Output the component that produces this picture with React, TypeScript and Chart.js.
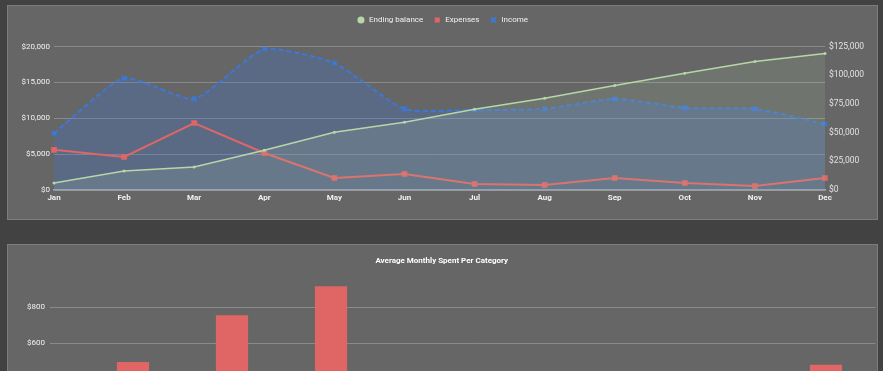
import React, { useEffect, useRef } from 'react';
import { Chart, registerables } from 'chart.js';

Chart.register(...registerables);

// ---------- data ----------
const months = ['Jan', 'Feb', 'Mar', 'Apr', 'May', 'Jun', 'Jul', 'Aug', 'Sep', 'Oct', 'Nov', 'Dec'];
const endingBalance = [6100, 16500, 20000, 34700, 50300, 59000, 70300, 79900, 91100, 101600, 112000, 118900];
const expenses = [5600, 4600, 9340, 5160, 1670, 2230, 840, 700, 1670, 980, 560, 1670];
const income = [7900, 15600, 12700, 19650, 17700, 11300, 11150, 11300, 12700, 11450, 11300, 9200];

const categories = ['Groceries', 'Dining', 'Shopping', 'Transport', 'Utilities', 'Health', 'Entertainment', 'Other'];
const avgMonthlySpent = [494, 755, 918, 380, 260, 310, 150, 478];

const leftAxis = { min: 0, max: 20000, step: 5000 };
const rightAxis = { min: 0, max: 125000, step: 25000 };
const barAxisMax = 980;
const barTicks = [0, 200, 400, 600, 800];

// ---------- style ----------
const GREEN = '#b6d7a8';
const RED = '#e06666';
const BLUE = '#3c78d8';
const GRID = '#8a8a8a';
const FONT = 'Roboto, "Noto Sans", sans-serif';

const money = (v: any) => '$' + Number(v).toLocaleString('en-US');

Chart.defaults.font.family = FONT;

function TopChart() {
  const ref = useRef<HTMLCanvasElement>(null);
  useEffect(() => {
    const legendSpacer = {
      id: 'legendSpacer',
      beforeInit(chart: any) {
        const orig = chart.legend.fit;
        chart.legend.fit = function () {
          orig.bind(chart.legend)();
          this.height += 12.5;
        };
      },
    };
    const chart = new Chart(ref.current as HTMLCanvasElement, {
      type: 'line',
      data: {
        labels: months,
        datasets: [
          {
            label: 'Ending balance',
            data: endingBalance,
            yAxisID: 'y1',
            borderColor: GREEN,
            backgroundColor: 'rgba(182,215,168,0.13)',
            fill: 'origin',
            pointStyle: 'circle',
            pointRadius: 1.5,
            pointBackgroundColor: GREEN,
            pointBorderColor: GREEN,
            pointBorderWidth: 0,
            borderWidth: 1.5,
            tension: 0,
          },
          {
            label: 'Expenses',
            data: expenses,
            yAxisID: 'y',
            borderColor: RED,
            backgroundColor: RED,
            fill: false,
            pointStyle: 'rect',
            pointRadius: 4,
            pointBackgroundColor: RED,
            pointBorderColor: RED,
            pointBorderWidth: 0,
            borderWidth: 2,
            tension: 0,
          },
          {
            label: 'Income',
            data: income,
            yAxisID: 'y',
            borderColor: BLUE,
            backgroundColor: 'rgba(60,120,216,0.28)',
            fill: 'origin',
            borderDash: [5, 3],
            pointStyle: 'crossRot',
            pointRadius: 3,
            pointBackgroundColor: BLUE,
            pointBorderColor: BLUE,
            pointBorderWidth: 2,
            borderWidth: 2,
            tension: 0.18,
          },
        ],
      },
      options: {
        responsive: false,
        animation: false,
        layout: { padding: 0 },
        plugins: {
          title: { display: false },
          tooltip: { enabled: false },
          legend: {
            display: true,
            position: 'top',
            labels: {
              usePointStyle: true,
              boxWidth: 8,
              boxHeight: 5,
              padding: 10,
              color: '#f2f2f2',
              font: { size: 8, family: FONT },
            },
          },
        },
        scales: {
          x: {
            offset: false,
            grid: { display: false, drawTicks: false },
            border: { display: true, color: '#a9a9a9', width: 1.5 },
            ticks: { color: '#f2f2f2', font: { size: 8, weight: 'bold', family: FONT }, padding: 3, maxRotation: 0, autoSkip: false },
            afterFit: (s: any) => { s.height = 29; },
          },
          y: {
            position: 'left',
            min: leftAxis.min,
            max: leftAxis.max,
            grid: { color: GRID, drawTicks: false, lineWidth: 1 },
            border: { display: false },
            ticks: { stepSize: leftAxis.step, color: '#f2f2f2', font: { size: 8, family: FONT }, padding: 4, callback: money },
            afterFit: (s: any) => { s.width = 46; },
          },
          y1: {
            position: 'right',
            min: rightAxis.min,
            max: rightAxis.max,
            grid: { drawOnChartArea: false, drawTicks: false },
            border: { display: false },
            ticks: { stepSize: rightAxis.step, color: '#e2e2e2', font: { size: 8.5, family: FONT }, padding: 4, callback: money },
            afterFit: (s: any) => { s.width = 52; },
          },
        },
      } as any,
      plugins: [legendSpacer],
    });
    return () => chart.destroy();
  }, []);
  return <canvas ref={ref} width={869} height={213} style={{ display: 'block' }} />;
}

function BottomChart() {
  const ref = useRef<HTMLCanvasElement>(null);
  useEffect(() => {
    const chart = new Chart(ref.current as HTMLCanvasElement, {
      type: 'bar',
      data: {
        labels: categories,
        datasets: [
          {
            label: 'Average Monthly Spent',
            data: avgMonthlySpent,
            backgroundColor: RED,
            borderWidth: 0,
            categoryPercentage: 1,
            barPercentage: 0.325,
          },
        ],
      },
      options: {
        responsive: false,
        animation: false,
        layout: { padding: { right: 1.5 } },
        plugins: {
          legend: { display: false },
          tooltip: { enabled: false },
          title: {
            display: true,
            text: 'Average Monthly Spent Per Category',
            color: '#ffffff',
            font: { size: 8, weight: 'bold', family: FONT },
            padding: { top: 11, bottom: 9.6 },
          },
        },
        scales: {
          x: {
            grid: { display: false, drawTicks: false },
            border: { display: true, color: '#a9a9a9' },
            ticks: { color: '#f2f2f2', font: { size: 8, family: FONT }, padding: 4 },
            afterFit: (s: any) => { s.height = 29.9; },
          },
          y: {
            min: 0,
            max: barAxisMax,
            grid: { color: GRID, drawTicks: true, tickLength: 33.5, lineWidth: 1 },
            border: { display: false },
            ticks: { color: '#f2f2f2', font: { size: 8, family: FONT }, padding: 5, callback: money },
            afterBuildTicks: (s: any) => { s.ticks = barTicks.map((v) => ({ value: v })); },
            afterFit: (s: any) => { s.width = 75.5; },
          },
        },
      } as any,
    });
    return () => chart.destroy();
  }, []);
  return <canvas ref={ref} width={869} height={235} style={{ display: 'block' }} />;
}

export default function App() {
  return (
    <div style={{ position: 'absolute', left: 0, top: 0, width: 883, height: 371, overflow: 'hidden', background: '#424242' }}>
      <div style={{ position: 'absolute', left: 7, top: 5, width: 871, height: 215, boxSizing: 'border-box', border: '1px solid #7c7c7c', background: '#666666' }}>
        <TopChart />
      </div>
      <div style={{ position: 'absolute', left: 7, top: 244, width: 871, height: 260, boxSizing: 'border-box', border: '1px solid #7c7c7c', background: '#666666' }}>
        <BottomChart />
      </div>
    </div>
  );
}
